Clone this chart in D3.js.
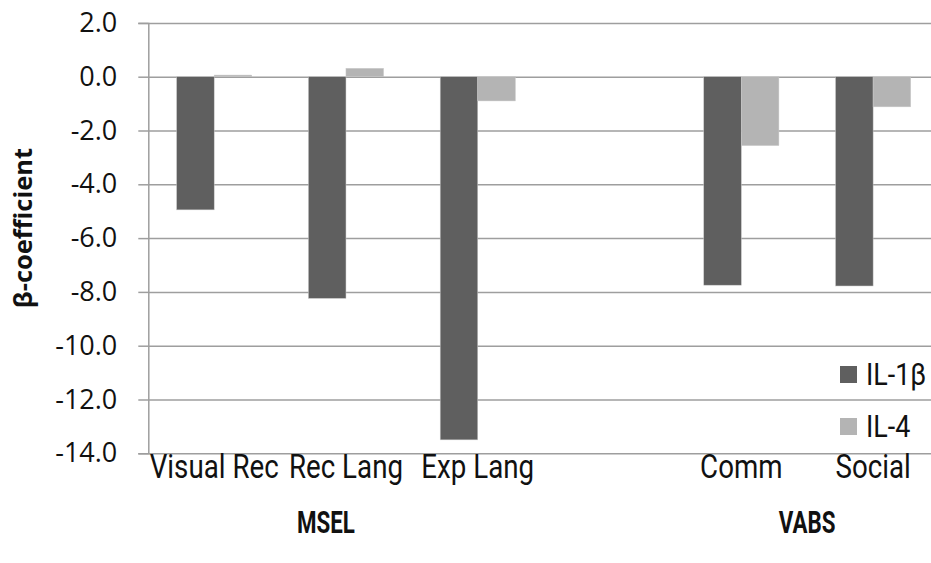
<!DOCTYPE html>
<html>
<head>
<meta charset="utf-8">
<script src="https://cdn.jsdelivr.net/npm/d3@7"></script>
<style>
  html, body { margin: 0; padding: 0; background: #fff; }
  svg { display: block; }
  text { fill: #111; }
</style>
</head>
<body>
<div id="chart"></div>
<script>
// categories, with an empty slot between the two instruments
const CATEGORIES = ['Visual Rec', 'Rec Lang', 'Exp Lang', '', 'Comm', 'Social'];
const SERIES = ['IL-1β', 'IL-4'];
const IL1B = [-4.95, -8.24, -13.5, null, -7.75, -7.78];
const IL4 = [0.06, 0.31, -0.9, null, -2.56, -1.12];
const Y_TICKS = [2, 0, -2, -4, -6, -8, -10, -12, -14];
const GROUPS = ['MSEL', 'VABS'];

const W = 931, H = 563;
const M = { top: 22.9, bottom: 453.3, left: 148.3, right: 939 };
const COLORS = ['#5f5f5f', '#b4b4b4'];

const svg = d3.select('#chart').append('svg')
  .attr('width', W)
  .attr('height', H);

const x0 = d3.scaleBand()
  .domain(d3.range(CATEGORIES.length))
  .range([M.left, M.right])
  .paddingInner(0.43)
  .paddingOuter(0.215);

const x1 = d3.scaleBand()
  .domain(SERIES)
  .range([0, x0.bandwidth()]);

const y = d3.scaleLinear()
  .domain([-14, 2])
  .range([M.bottom, M.top]);

const color = d3.scaleOrdinal().domain(SERIES).range(COLORS);

// grid
svg.append('g')
  .attr('transform', `translate(${M.left},0)`)
  .call(d3.axisLeft(y).tickValues(Y_TICKS).tickSize(-(W - M.left)).tickFormat(''))
  .call(g => g.select('.domain').remove())
  .call(g => g.selectAll('.tick line').attr('stroke', '#9e9e9e').attr('stroke-width', 1.5));

// bars
const rows = CATEGORIES.map((c, i) => ({ i, values: [IL1B[i], IL4[i]] }));
svg.append('g')
  .selectAll('g')
  .data(rows)
  .join('g')
  .attr('transform', d => `translate(${x0(d.i)},0)`)
  .selectAll('rect')
  .data(d => SERIES.map((s, k) => ({ key: s, value: d.values[k] })).filter(d => d.value != null))
  .join('rect')
  .attr('x', d => x1(d.key))
  .attr('width', x1.bandwidth())
  .attr('y', d => y(Math.max(0, d.value)))
  .attr('height', d => Math.abs(y(d.value) - y(0)))
  .attr('fill', d => color(d.key))
  .attr('stroke', '#c8c8c8')
  .attr('stroke-width', 0.5);

// y axis
svg.append('g')
  .attr('transform', `translate(${M.left},0)`)
  .call(d3.axisLeft(y).tickValues(Y_TICKS).tickSize(10).tickPadding(21).tickFormat(d3.format('.1f')))
  .call(g => g.select('.domain').attr('stroke', '#9e9e9e').attr('stroke-width', 1.5))
  .call(g => g.selectAll('.tick line').attr('stroke', '#9e9e9e').attr('stroke-width', 1.5))
  .call(g => g.selectAll('text')
    .attr('fill', '#111')
    .style('font-family', '"Open Sans", sans-serif')
    .style('font-size', '27px')
    .text(d => d3.format('.1f')(d).replace('−', '-')));

svg.append('text')
  .attr('transform', 'translate(32,228) rotate(-90)')
  .attr('text-anchor', 'middle')
  .style('font-family', '"Open Sans", sans-serif')
  .style('font-size', '25.5px')
  .style('font-weight', '700')
  .text('β-coefficient');

// category labels
const catFont = 'Roboto, "Open Sans", sans-serif';
svg.append('g')
  .selectAll('text')
  .data(CATEGORIES.map((c, i) => ({ c, i })).filter(d => d.c))
  .join('text')
  .attr('transform', d => `translate(${x0(d.i) + x0.bandwidth() / 2},478) scale(0.84,1)`)
  .attr('text-anchor', 'middle')
  .style('font-family', catFont)
  .style('font-size', '33px')
  .text(d => d.c);

// instrument labels
const groupX = [
  x0(1) + x0.bandwidth() / 2 - 20,
  x0(5) - (x0.step() - x0.bandwidth()) / 2
];
svg.append('g')
  .selectAll('text')
  .data(GROUPS)
  .join('text')
  .attr('transform', (d, i) => `translate(${groupX[i]},533) scale(0.72,1)`)
  .attr('text-anchor', 'middle')
  .style('font-family', catFont)
  .style('font-size', '31px')
  .style('font-weight', '700')
  .text(d => d);

// legend
const legend = svg.append('g').attr('transform', 'translate(840,366)');
SERIES.forEach((s, i) => {
  const g = legend.append('g').attr('transform', `translate(0,${i * 52})`);
  g.append('rect').attr('width', 17).attr('height', 17).attr('fill', color(s));
  g.append('text')
    .attr('transform', 'translate(26,19) scale(0.84,1)')
    .style('font-family', catFont)
    .style('font-size', '32px')
    .text(s);
});
</script>
</body>
</html>
